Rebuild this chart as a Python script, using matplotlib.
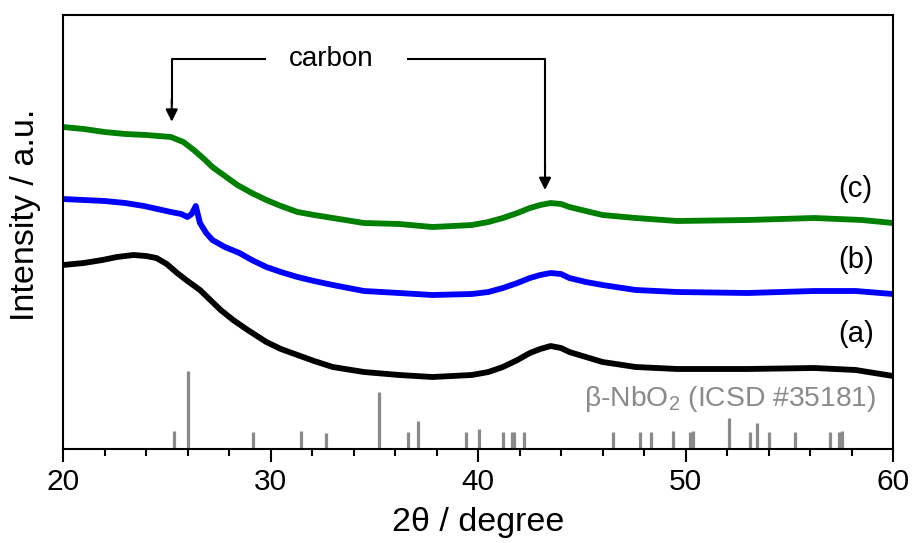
import matplotlib
matplotlib.use("Agg")
import matplotlib.pyplot as plt

# ---- data (intensity in arbitrary units) ----
x_c = [20, 21, 22, 23, 24, 25.2, 25.8, 26.3, 26.8, 27.2, 27.8, 28.4, 29.1, 29.8, 30.5,
       31.3, 32.1, 33, 34.5, 36.2, 37.8, 38.8, 39.7, 40.5, 41.2, 41.9, 42.5, 43.0,
       43.5, 44.0, 44.4, 45.2, 46, 47.6, 49.6, 53, 56.2, 58.5, 60]
y_c = [322, 320, 317, 315, 314, 312, 307, 299, 290, 282, 273, 264, 256, 249, 243,
       237, 234, 231, 226, 225, 222, 223, 224, 227, 231, 236, 241, 244,
       246, 245, 242, 238, 234, 231, 228, 229, 231, 229, 226]

x_b = [20, 21, 22, 23, 23.9, 25.2, 25.7, 26.0, 26.2, 26.4, 26.6, 26.9, 27.2, 27.8,
       28.5, 29.1, 29.8, 30.5, 31.3, 32.1, 33, 34.5, 36.2, 37.8, 39.7, 40.5, 41.2,
       41.9, 42.5, 43.0, 43.5, 44.0, 44.4, 45.2, 46, 47.6, 49.6, 53, 56.2, 58.2, 60]
y_b = [250, 249, 248, 246, 243, 237, 235, 232, 235, 243, 226, 216, 209, 202,
       196, 189, 182, 177, 172, 168, 164, 158, 156, 154, 155, 157, 161,
       166, 171, 174, 176, 175, 171, 167, 164, 159, 157, 156, 158, 158, 155]

x_a = [20, 21, 21.9, 22.6, 23.4, 24.0, 24.5, 25.0, 25.5, 26.0, 26.6, 27.1, 27.6, 28.2,
       28.9, 29.8, 30.5, 31.3, 32.1, 33, 34.5, 36.2, 37.8, 39.7, 40.5, 41.2, 41.9,
       42.5, 43.0, 43.5, 44.0, 44.4, 45.2, 46, 47.6, 49.6, 53, 56.2, 58.2, 60]
y_a = [184, 186, 189, 192, 194, 193, 191, 185, 176, 168, 159, 149, 139, 129,
       119, 107, 100, 94, 88, 82, 77, 74, 72, 74, 77, 82, 89,
       96, 100, 103, 101, 97, 92, 87, 82, 80, 80, 81, 79, 73]

ref_pos = [25.36, 26.01, 29.16, 31.47, 32.66, 35.25, 36.64, 37.09, 39.40, 40.05,
           41.22, 41.62, 41.72, 42.22, 46.49, 47.81, 48.32, 49.41, 50.22, 50.35,
           52.08, 53.11, 53.46, 54.04, 55.26, 56.96, 57.42, 57.55]
ref_int = [23, 100, 22, 23, 21, 73, 22, 36, 22, 26,
           22, 22, 22, 22, 22, 22, 22, 23, 22, 23,
           40, 22, 33, 22, 22, 22, 22, 23]

curve_labels = ["(a)", "(b)", "(c)"]
label_y = [115, 189, 260]
xticks = [20, 30, 40, 50, 60]

# ---- style ----
plt.rcParams['font.family'] = ['Liberation Sans', 'DejaVu Sans']
plt.rcParams['mathtext.fontset'] = 'custom'
plt.rcParams['mathtext.rm'] = 'Liberation Sans'
plt.rcParams['mathtext.it'] = 'Liberation Sans'

STICK_SCALE = 0.78
gray = '#8a8a8a'
LW = 4.2

fig = plt.figure(figsize=(9.14, 5.43), dpi=100)
ax = fig.add_axes([63/914, 94/543, 830/914, 434/543])

ax.plot(x_a, y_a, color='black', lw=LW, solid_joinstyle='round')
ax.plot(x_b, y_b, color='#0000ff', lw=LW, solid_joinstyle='round')
ax.plot(x_c, y_c, color='#008000', lw=LW, solid_joinstyle='round')

ax.vlines(ref_pos, 0, [v * STICK_SCALE for v in ref_int], color=gray, lw=2.3)

ax.set_xlim(20, 60)
ax.set_ylim(0, 434)
ax.set_xticks(xticks)
ax.set_xticks(range(22, 60, 2), minor=True)
ax.set_yticks([])
ax.tick_params(axis='x', which='major', direction='out', length=9.5, width=1.5,
               labelsize=21.5, pad=4)
ax.tick_params(axis='x', which='minor', direction='out', length=5, width=1.5)
for s in ax.spines.values():
    s.set_linewidth(1.5)

for lab, yy in zip(curve_labels, label_y):
    ax.text(58.2, yy, lab, ha='center', va='center', fontsize=21)

ax.text(59.2, 50, r'β-NbO$_2$ (ICSD #35181)', ha='right', va='center',
        fontsize=20.3, color=gray)

# carbon annotation
ax.text(32.94, 389.7, 'carbon', ha='center', va='center', fontsize=20)
ax.plot([29.73, 25.24, 25.24], [389.7, 389.7, 345], color='black', lw=1.5)
ax.plot([36.63, 43.23, 43.23], [389.7, 389.7, 280], color='black', lw=1.5)
ax.annotate('', xy=(25.24, 327.3), xytext=(25.24, 350),
            arrowprops=dict(arrowstyle='-|>', color='black', lw=1.5,
                            mutation_scale=18, shrinkA=0, shrinkB=0))
ax.annotate('', xy=(43.23, 259), xytext=(43.23, 285),
            arrowprops=dict(arrowstyle='-|>', color='black', lw=1.5,
                            mutation_scale=18, shrinkA=0, shrinkB=0))

fig.text(26/914, 1 - 215/543, 'Intensity / a.u.', rotation=90, ha='center',
         va='center', fontsize=24.5)
fig.text(478/914, 1 - 522/543, '2θ / degree', ha='center', va='center',
         fontsize=24.5)

fig.savefig('out.png', dpi=100)
